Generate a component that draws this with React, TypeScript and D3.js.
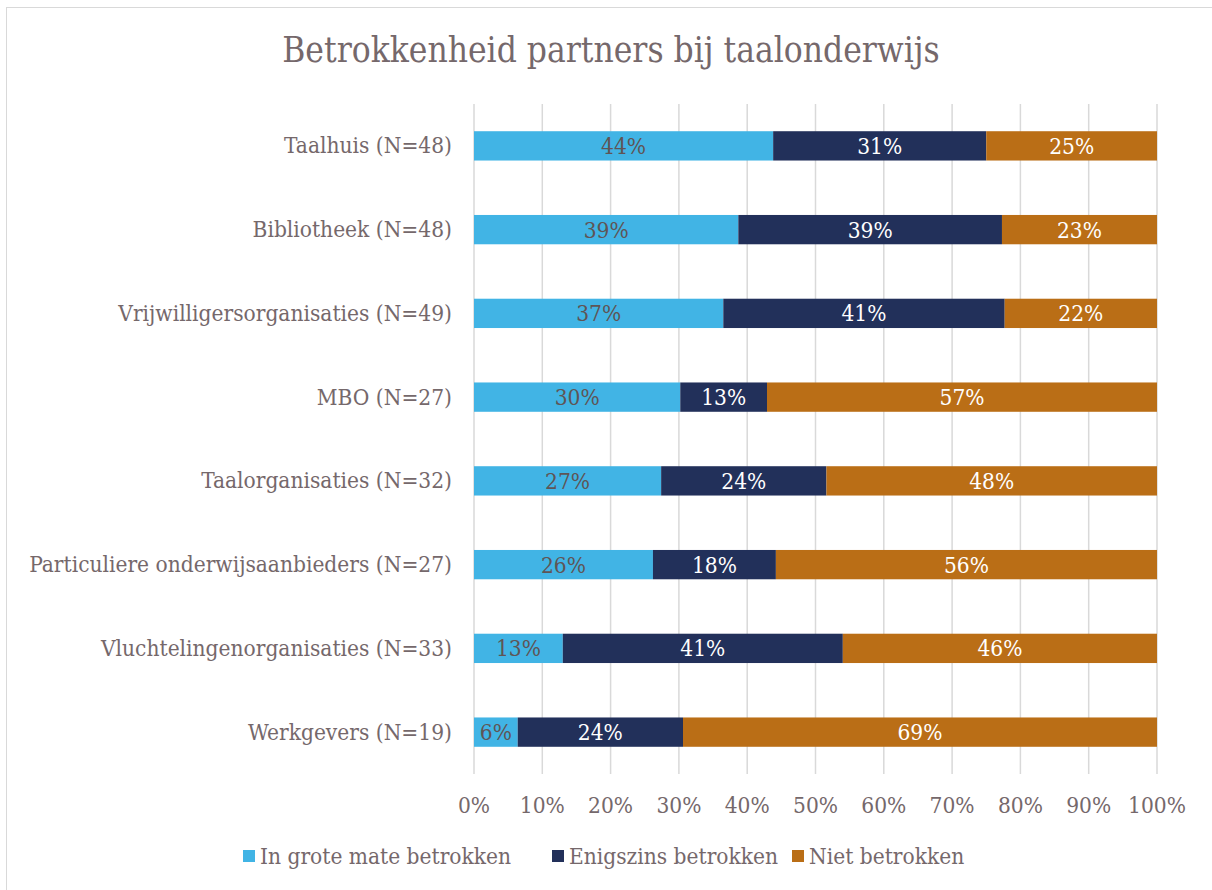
import React, { useRef, useEffect } from 'react';
import * as d3 from 'd3';

const categories = [
  'Taalhuis (N=48)',
  'Bibliotheek (N=48)',
  'Vrijwilligersorganisaties (N=49)',
  'MBO (N=27)',
  'Taalorganisaties (N=32)',
  'Particuliere onderwijsaanbieders (N=27)',
  'Vluchtelingenorganisaties (N=33)',
  'Werkgevers (N=19)',
];
const seriesNames = ['In grote mate betrokken', 'Enigszins betrokken', 'Niet betrokken'];
const groteMate = [43.8, 38.7, 36.5, 30.2, 27.4, 26.2, 13.0, 6.4];
const enigszins = [31.2, 38.6, 41.2, 12.7, 24.2, 18.0, 41.0, 24.2];
const niet = [25.0, 22.7, 22.3, 57.1, 48.4, 55.8, 46.0, 69.4];
const xTicks = [0, 10, 20, 30, 40, 50, 60, 70, 80, 90, 100];

const colors = ['#41B4E5', '#22305A', '#BA6E16'];
const labelColors = ['#5F5556', '#FFFFFF', '#FFFFFF'];
const textColor = '#75686B';
const font = '"DejaVu Serif Condensed", "Liberation Serif", serif';

const App = () => {
  const ref = useRef<SVGSVGElement>(null);

  useEffect(() => {
    const svg = d3.select(ref.current);
    svg.selectAll('*').remove();

    const left = 474, right = 1157, top = 104, bottom = 774;
    const x = d3.scaleLinear().domain([0, 100]).range([left, right]);
    const y = d3.scaleBand().domain(categories).range([top, bottom]).paddingInner(0.65).paddingOuter(0.325);

    svg.append('rect')
      .attr('x', 6.5).attr('y', 7.5).attr('width', 1220).attr('height', 900)
      .attr('fill', 'white').attr('stroke', '#D9D9D9');

    svg.append('text')
      .attr('x', 611).attr('y', 62)
      .attr('text-anchor', 'middle')
      .attr('font-family', font).attr('font-size', 35)
      .attr('fill', textColor)
      .text('Betrokkenheid partners bij taalonderwijs');

    svg.append('g').selectAll('line').data(xTicks).enter().append('line')
      .attr('x1', d => x(d)).attr('x2', d => x(d))
      .attr('y1', top).attr('y2', bottom)
      .attr('stroke', '#D9D9D9').attr('stroke-width', 1.5);

    svg.append('g').selectAll('text').data(xTicks).enter().append('text')
      .attr('x', d => x(d)).attr('y', 813)
      .attr('text-anchor', 'middle')
      .attr('font-family', font).attr('font-size', 22.5)
      .attr('fill', textColor)
      .text(d => d + '%');

    svg.append('g').selectAll('text').data(categories).enter().append('text')
      .attr('x', left - 22).attr('y', d => y(d)! + y.bandwidth() / 2 + 7.5)
      .attr('text-anchor', 'end')
      .attr('font-family', font).attr('font-size', 22.5)
      .attr('fill', textColor)
      .text(d => d);

    const rows = categories.map((c, i) => ({ cat: c, vals: [groteMate[i], enigszins[i], niet[i]] }));
    rows.forEach(r => {
      let acc = 0;
      r.vals.forEach((v, s) => {
        const x0 = acc;
        acc += v;
        svg.append('rect')
          .attr('x', x(x0)).attr('y', y(r.cat)!)
          .attr('width', x(acc) - x(x0)).attr('height', y.bandwidth())
          .attr('fill', colors[s]);
        svg.append('text')
          .attr('x', (x(x0) + x(acc)) / 2).attr('y', y(r.cat)! + y.bandwidth() / 2 + 8)
          .attr('text-anchor', 'middle')
          .attr('font-family', font).attr('font-size', 22.5)
          .attr('fill', labelColors[s])
          .text(Math.round(v) + '%');
      });
    });

    const legendX = [243, 552, 792];
    seriesNames.forEach((n, i) => {
      svg.append('rect')
        .attr('x', legendX[i]).attr('y', 850).attr('width', 12).attr('height', 12)
        .attr('fill', colors[i]);
      svg.append('text')
        .attr('x', legendX[i] + 17).attr('y', 864)
        .attr('font-family', font).attr('font-size', 22.5)
        .attr('fill', textColor)
        .text(n);
    });
  }, []);

  return <svg ref={ref} width={1212} height={890} style={{ position: 'absolute', left: 0, top: 0 }} />;
};

export default App;
